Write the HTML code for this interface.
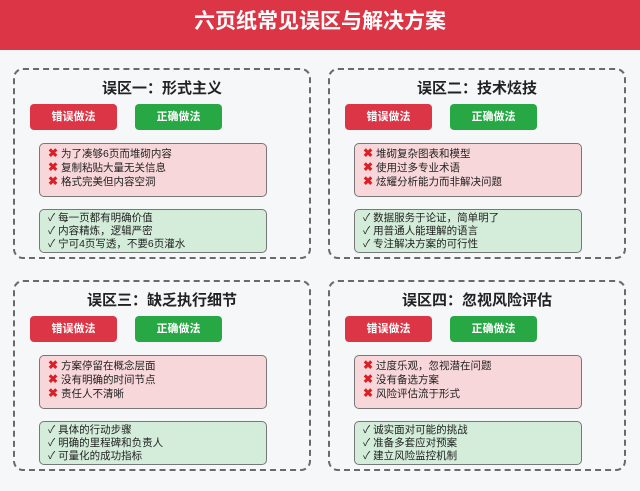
<!DOCTYPE html>
<html><head><meta charset="utf-8"><style>
*{margin:0;padding:0;box-sizing:border-box}
body{width:640px;height:491px;background:#f6f7f9;position:relative;overflow:hidden;font-family:"Liberation Sans","Noto Sans CJK SC",sans-serif}
.hd{position:absolute;left:0;top:0;width:640px;height:50px;background:#dc3545;color:#fff;font-weight:bold;font-size:21px;text-align:center;line-height:44px}
.p{position:absolute;width:298px;height:191px;border:2px dashed #6a6a6a;border-radius:10px;background:#f6f7f9}
.t{position:absolute;left:0;width:100%;top:7px;text-align:center;font-size:15px;font-weight:bold;color:#222}
.b{position:absolute;top:34px;width:87px;height:26px;border-radius:4px;color:#fff;font-size:11px;font-weight:bold;text-align:center;line-height:26px}
.r{left:15px;background:#dc3545}.g{left:120px;background:#28a745}
.bx{position:absolute;left:24px;width:228px;border:1px solid #777;border-radius:5px;font-size:10.5px;color:#222;padding:3px 0 0 8px;line-height:13px}
.pk{top:73px;height:54px;background:#f8d7da}
.gr{top:139px;height:44px;background:#d4edda;padding-top:2px}
.x{color:#dc1f26;font-weight:bold;font-size:12px}
</style></head><body>
<div class="hd">六页纸常见误区与解决方案</div>

<div class="p" style="left:13px;top:68px"><div class="t">误区一：形式主义</div>
<div class="b r">错误做法</div><div class="b g">正确做法</div>
<div class="bx pk"><span class="x">✖</span> 为了凑够6页而堆砌内容<br><span class="x">✖</span> 复制粘贴大量无关信息<br><span class="x">✖</span> 格式完美但内容空洞</div>
<div class="bx gr">✓ 每一页都有明确价值<br>✓ 内容精炼，逻辑严密<br>✓ 宁可4页写透，不要6页灌水</div></div>

<div class="p" style="left:328px;top:68px"><div class="t">误区二：技术炫技</div>
<div class="b r">错误做法</div><div class="b g">正确做法</div>
<div class="bx pk"><span class="x">✖</span> 堆砌复杂图表和模型<br><span class="x">✖</span> 使用过多专业术语<br><span class="x">✖</span> 炫耀分析能力而非解决问题</div>
<div class="bx gr">✓ 数据服务于论证，简单明了<br>✓ 用普通人能理解的语言<br>✓ 专注解决方案的可行性</div></div>

<div class="p" style="left:13px;top:280px"><div class="t">误区三：缺乏执行细节</div>
<div class="b r">错误做法</div><div class="b g">正确做法</div>
<div class="bx pk"><span class="x">✖</span> 方案停留在概念层面<br><span class="x">✖</span> 没有明确的时间节点<br><span class="x">✖</span> 责任人不清晰</div>
<div class="bx gr">✓ 具体的行动步骤<br>✓ 明确的里程碑和负责人<br>✓ 可量化的成功指标</div></div>

<div class="p" style="left:328px;top:280px"><div class="t">误区四：忽视风险评估</div>
<div class="b r">错误做法</div><div class="b g">正确做法</div>
<div class="bx pk"><span class="x">✖</span> 过度乐观，忽视潜在问题<br><span class="x">✖</span> 没有备选方案<br><span class="x">✖</span> 风险评估流于形式</div>
<div class="bx gr">✓ 诚实面对可能的挑战<br>✓ 准备多套应对预案<br>✓ 建立风险监控机制</div></div>
</body></html>
